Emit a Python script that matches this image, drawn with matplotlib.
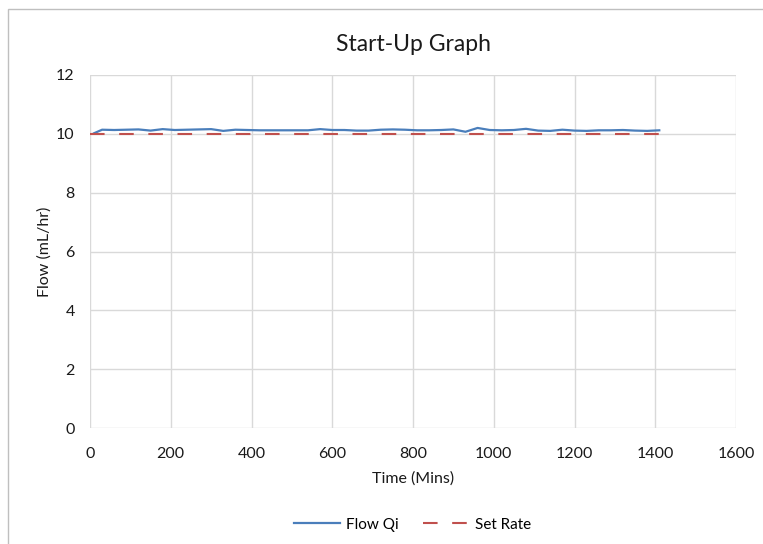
import matplotlib
matplotlib.use("Agg")
import matplotlib.pyplot as plt
from matplotlib.patches import Rectangle

# flow readings (mins, mL/hr)
times = [10, 30, 60, 90, 120, 150, 180, 210, 240, 270, 300, 330, 360, 390,
         420, 450, 480, 510, 540, 570, 600, 630, 660, 690, 720, 750, 780,
         810, 840, 870, 900, 930, 960, 990, 1020, 1050, 1080, 1110, 1140,
         1170, 1200, 1230, 1260, 1290, 1320, 1350, 1380, 1410]
flow = [10.02, 10.14, 10.13, 10.14, 10.15, 10.11, 10.16, 10.13, 10.14, 10.15,
        10.16, 10.10, 10.14, 10.13, 10.12, 10.12, 10.12, 10.12, 10.12, 10.16,
        10.13, 10.13, 10.11, 10.11, 10.14, 10.15, 10.14, 10.12, 10.12, 10.13,
        10.15, 10.07, 10.20, 10.13, 10.12, 10.13, 10.17, 10.11, 10.10, 10.14,
        10.11, 10.10, 10.12, 10.12, 10.13, 10.11, 10.10, 10.12]
set_times = [0, 1415]
set_rate = [10, 10]

plt.rcParams['font.family'] = ['Lato', 'DejaVu Sans']

fig = plt.figure(figsize=(7.63, 5.44), dpi=100)
fig.patches.append(Rectangle((8 / 763, -0.01), 1.2, (544 - 9) / 544 + 0.01,
                             transform=fig.transFigure, fill=False,
                             edgecolor='#bfbfbf', linewidth=1))

ax = fig.add_axes([90 / 763, 116 / 544, 646 / 763, 353 / 544])
ax.plot(times, flow, color='#4a7ebb', linewidth=1.6, label='Flow Qi')
ax.plot(set_times, set_rate, color='#c0504d', linewidth=1.5,
        dashes=(7, 7), label='Set Rate')

ax.set_xlim(0, 1600)
ax.set_ylim(0, 12)
ax.set_xticks(range(0, 1601, 200))
ax.set_yticks(range(0, 13, 2))
ax.grid(True, color='#d9d9d9', linewidth=1)
ax.set_axisbelow(True)
for s in ax.spines.values():
    s.set_visible(False)
ax.tick_params(length=0, labelsize=11.5, colors='#1a1a1a')
ax.tick_params(axis='x', pad=13.5)
ax.tick_params(axis='y', pad=11)

ax.set_title('Start-Up Graph', fontsize=16.5, color='#1a1a1a', pad=17)
ax.set_xlabel('Time (Mins)', fontsize=11.5, color='#1a1a1a', labelpad=8)
ax.set_ylabel('Flow (mL/hr)', fontsize=11.5, color='#1a1a1a', labelpad=3)

ax.legend(loc='center', bbox_to_anchor=(0.5, -0.274), ncol=2, frameon=False,
          fontsize=11, handlelength=3.0, handletextpad=0.4,
          columnspacing=1.6)

fig.savefig('out.png', dpi=100)
